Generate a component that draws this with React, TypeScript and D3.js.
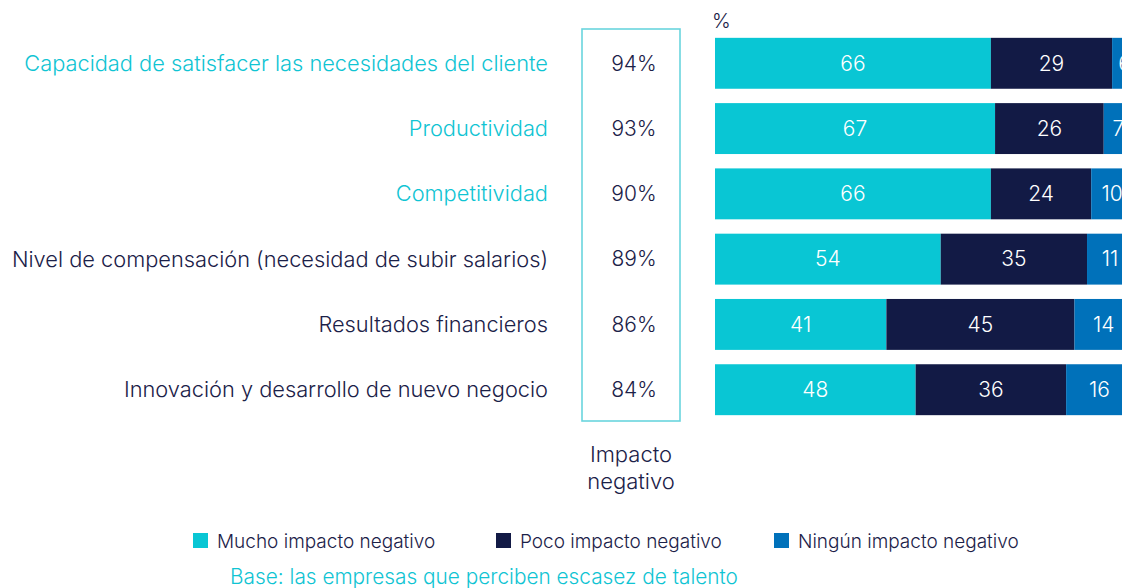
import React, { useEffect, useRef } from 'react';
import * as d3 from 'd3';

const categories = [
  'Capacidad de satisfacer las necesidades del cliente',
  'Productividad',
  'Competitividad',
  'Nivel de compensación (necesidad de subir salarios)',
  'Resultados financieros',
  'Innovación y desarrollo de nuevo negocio',
];
const highlighted = [true, true, true, false, false, false];
const impactoNegativo = [94, 93, 90, 89, 86, 84];
const mucho = [66, 67, 66, 54, 41, 48];
const poco = [29, 26, 24, 35, 45, 36];
const ninguno = [6, 7, 10, 11, 14, 16];
const seriesNames = ['Mucho impacto negativo', 'Poco impacto negativo', 'Ningún impacto negativo'];
const seriesColors = ['#09c6d4', '#121a45', '#0071ba'];

const CYAN = '#10c4d3';
const NAVY = '#1b2148';
const FONT = 'Inter, Roboto, "Noto Sans", sans-serif';

const App = () => {
  const svgRef = useRef<SVGSVGElement>(null);

  useEffect(() => {
    const svg = d3.select(svgRef.current);
    svg.selectAll('*').remove();

    const rows = categories.map((c, i) => ({ cat: c, i, vals: [mucho[i], poco[i], ninguno[i]] }));

    const y = d3.scaleBand<number>()
      .domain(d3.range(categories.length))
      .range([30, 423])
      .paddingInner(0.22)
      .paddingOuter(0.12);
    const x = d3.scaleLinear().domain([0, 100]).range([715, 1133]);

    // labels
    svg.append('g').selectAll('text')
      .data(rows)
      .join('text')
      .attr('x', 548)
      .attr('y', d => y(d.i)! + y.bandwidth() / 2)
      .attr('dy', '0.35em')
      .attr('text-anchor', 'end')
      .attr('font-size', 21.8)
      .attr('font-weight', 300)
      .attr('fill', d => highlighted[d.i] ? CYAN : NAVY)
      .text(d => d.cat);

    // impacto negativo box
    svg.append('rect')
      .attr('x', 582).attr('y', 29).attr('width', 98).attr('height', 392)
      .attr('fill', 'none').attr('stroke', '#6ad5de').attr('stroke-width', 1.6);

    svg.append('g').selectAll('text')
      .data(rows)
      .join('text')
      .attr('x', 634)
      .attr('y', d => y(d.i)! + y.bandwidth() / 2)
      .attr('dy', '0.35em')
      .attr('text-anchor', 'middle')
      .attr('font-size', 21)
      .attr('font-weight', 300)
      .attr('fill', NAVY)
      .text(d => `${impactoNegativo[d.i]}%`);

    const cap = svg.append('text')
      .attr('text-anchor', 'middle')
      .attr('font-size', 22).attr('font-weight', 300).attr('fill', NAVY);
    cap.append('tspan').attr('x', 631).attr('y', 462).text('Impacto');
    cap.append('tspan').attr('x', 631).attr('y', 489).text('negativo');

    svg.append('text')
      .attr('x', 712).attr('y', 28)
      .attr('font-size', 20).attr('font-weight', 300).attr('fill', NAVY)
      .text('%');

    // stacked bars
    const stack = rows.flatMap(r => {
      let acc = 0;
      return r.vals.map((v, k) => {
        const seg = { i: r.i, k, v, x0: acc, x1: acc + v };
        acc += v;
        return seg;
      });
    });

    svg.append('g').selectAll('rect')
      .data(stack)
      .join('rect')
      .attr('x', d => x(d.x0))
      .attr('y', d => y(d.i)!)
      .attr('width', d => x(d.x1) - x(d.x0))
      .attr('height', y.bandwidth())
      .attr('fill', d => seriesColors[d.k]);

    svg.append('g').selectAll('text')
      .data(stack)
      .join('text')
      .attr('x', d => (x(d.x0) + x(d.x1)) / 2)
      .attr('y', d => y(d.i)! + y.bandwidth() / 2)
      .attr('dy', '0.35em')
      .attr('text-anchor', 'middle')
      .attr('font-size', 21)
      .attr('font-weight', 300)
      .attr('fill', '#ffffff')
      .text(d => d.v);

    // legend
    const legendX = [193, 496, 774];
    const lg = svg.append('g').selectAll('g')
      .data(seriesNames)
      .join('g')
      .attr('transform', (d, k) => `translate(${legendX[k]},533)`);
    lg.append('rect').attr('width', 15).attr('height', 15).attr('fill', (d, k) => seriesColors[k]);
    lg.append('text')
      .attr('x', 24).attr('y', 8).attr('dy', '0.35em')
      .attr('font-size', 19).attr('font-weight', 300).attr('fill', NAVY)
      .text(d => d);

    svg.append('text')
      .attr('x', 484).attr('y', 584)
      .attr('text-anchor', 'middle')
      .attr('font-size', 20.8).attr('font-weight', 300).attr('fill', CYAN)
      .text('Base: las empresas que perciben escasez de talento');
  }, []);

  return (
    <svg
      ref={svgRef}
      width={1122}
      height={588}
      style={{ position: 'absolute', left: 0, top: 0, background: '#fff', fontFamily: FONT, overflow: 'hidden' }}
    />
  );
};

export default App;
